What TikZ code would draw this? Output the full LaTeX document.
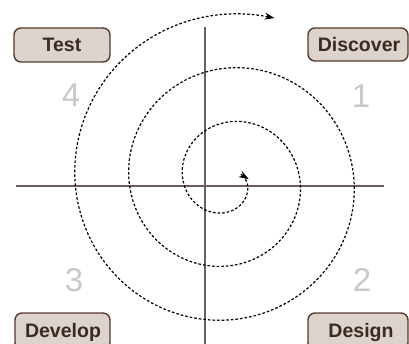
\documentclass[tikz,border=0pt]{standalone}
\usepackage{fontspec}
\setmainfont{Liberation Sans}
\usetikzlibrary{arrows.meta}
\definecolor{boxfill}{HTML}{DCD3CC}
\definecolor{boxline}{HTML}{55392B}
\definecolor{boxtext}{HTML}{3A2A22}
\definecolor{axis}{HTML}{6E5C66}
\definecolor{numgray}{HTML}{C8C8CC}
\tikzset{
  phase/.style={draw=boxline, line width=1.4pt, fill=boxfill, rounded corners=7pt},
  phasetext/.style={font=\bfseries\fontsize{19.5}{21}\selectfont, text=boxtext, inner sep=0pt},
  quad/.style={font=\fontsize{33}{33}\selectfont, text=numgray, inner sep=0pt},
  axisline/.style={draw=axis, line width=1.8pt},
  spiralline/.style={draw=black, line width=1.2pt, dash pattern=on 2.6pt off 2pt},
}
\begin{document}
\begin{tikzpicture}[x=1pt,y=-1pt]
\useasboundingbox (0,0) rectangle (409,344);
\begin{scope}
\clip (0,0) rectangle (409,344);
% axes
\coordinate (hl) at (16,186);
\coordinate (hr) at (384,186);
\coordinate (vt) at (205,27);
\coordinate (vb) at (205,345);
\draw[axisline] (hl) -- (hr);
\draw[axisline] (vt) -- (vb);
% spiral
\draw[spiralline, {Stealth[reversed,length=10pt,width=7pt]}-{Stealth[length=10pt,width=7pt]}]
  plot[domain=-28:1006, samples=400, smooth]
  ({228+(18+0.15*\x)*cos(\x)}, {180.5+(18+0.15*\x)*sin(\x)});
% boxes
\draw[phase] (14,28) rectangle (110,62);
\node[phasetext] (test) at (62,45) {Test};
\draw[phase] (308,28) rectangle (408,61);
\node[phasetext] (discover) at (359,45) {Discover};
\draw[phase] (15,313) rectangle (110,350);
\node[phasetext, anchor=base] (develop) at (63,337) {Develop};
\draw[phase] (308,313) rectangle (408,350);
\node[phasetext, anchor=base] (design) at (361,337) {Design};
% quadrant numbers
\node[quad] (n4) at (71,95) {4};
\node[quad] (n1) at (361,96) {1};
\node[quad] (n3) at (74,280) {3};
\node[quad] (n2) at (362,280) {2};
\end{scope}
\end{tikzpicture}
\end{document}
